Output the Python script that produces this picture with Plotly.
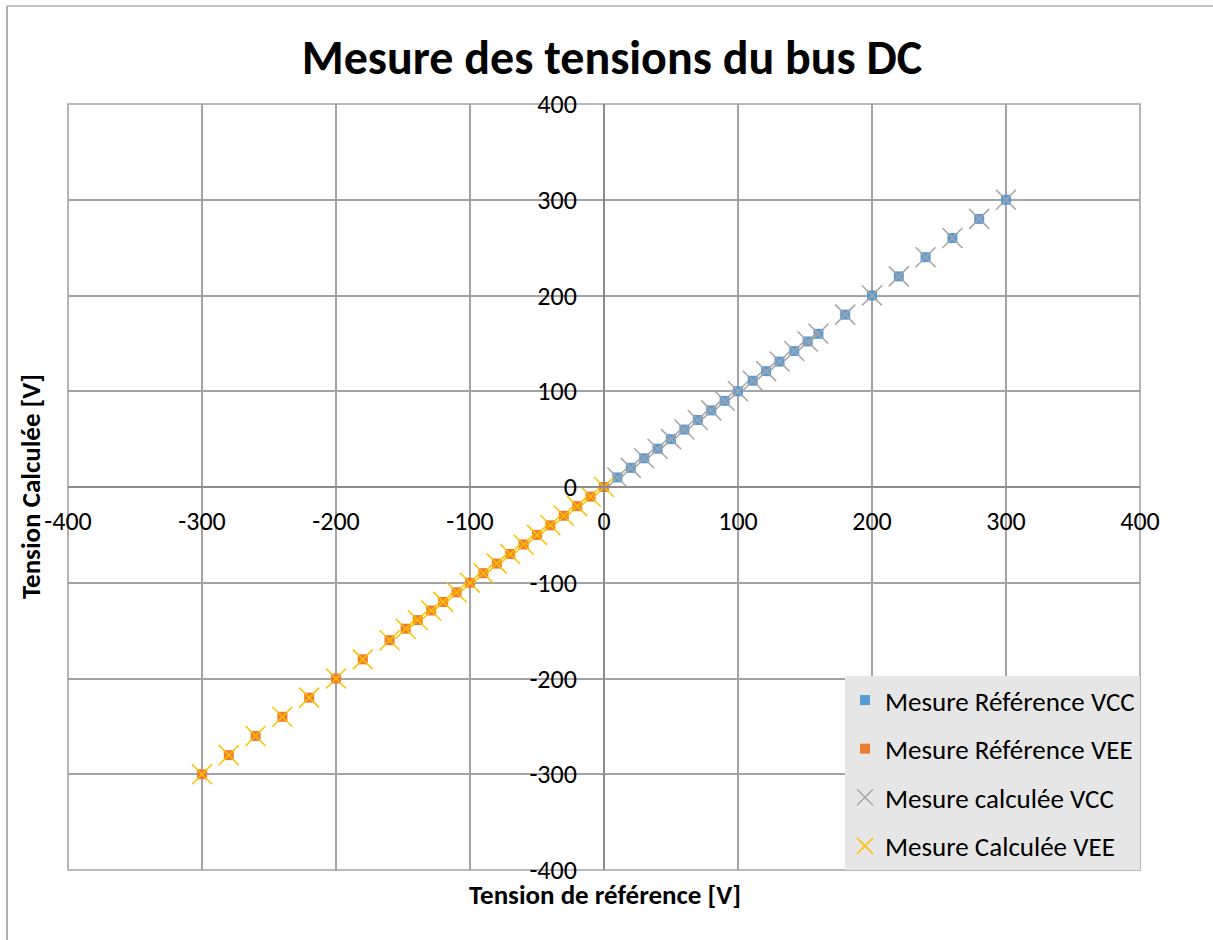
import plotly.graph_objects as go

# Reference and computed DC bus voltages [V]
ref_vcc = [10, 20, 30, 40, 50, 60, 70, 80, 90, 100, 111, 121, 131, 142, 152, 160,
           180, 200, 220, 240, 260, 280, 300]
calc_vcc = [10, 20, 30, 40, 50, 60, 70, 80, 90, 100, 111, 121, 131, 142, 152, 160,
            180, 200, 220, 240, 260, 280, 300]
ref_vee = [0, -10, -20, -30, -40, -50, -60, -70, -80, -90, -100, -110, -120, -129,
           -139, -148, -160, -180, -200, -220, -240, -260, -280, -300]
calc_vee = [0, -10, -20, -30, -40, -50, -60, -70, -80, -90, -100, -110, -120, -129,
            -139, -148, -160, -180, -200, -220, -240, -260, -280, -300]

tick_vals = [-400, -300, -200, -100, 0, 100, 200, 300, 400]
tick_text = [str(v) for v in tick_vals]

FONT = "Carlito, Lato, sans-serif"
GRID = "#A3A3A3"

fig = go.Figure()

fig.add_trace(go.Scatter(
    x=ref_vcc, y=ref_vcc, mode="markers", name="Mesure Référence VCC",
    legendgroup="a",
    marker=dict(symbol="square", size=10, color="#5B9BD5", line=dict(width=0)),
))
fig.add_trace(go.Scatter(
    x=ref_vee, y=ref_vee, mode="markers", name="Mesure Référence VEE",
    legendgroup="b",
    marker=dict(symbol="square", size=10, color="#ED7D31", line=dict(width=0)),
))
fig.add_trace(go.Scatter(
    x=ref_vcc, y=calc_vcc, mode="markers", name="Mesure calculée VCC",
    legendgroup="c",
    marker=dict(symbol="x-thin-open", size=20, color="#A5A5A5",
                line=dict(width=1.5, color="#A5A5A5")),
))
fig.add_trace(go.Scatter(
    x=ref_vee, y=calc_vee, mode="markers", name="Mesure Calculée VEE",
    legendgroup="d",
    marker=dict(symbol="x-thin-open", size=20, color="#FFC000",
                line=dict(width=1.5, color="#FFC000")),
))

axis_common = dict(
    range=[-400, 400], tickvals=tick_vals, ticktext=tick_text,
    showgrid=True, gridcolor=GRID, gridwidth=1.6,
    zeroline=False, showline=True, linecolor="#8C8C8C", linewidth=1.8,
    ticks="", tickfont=dict(family=FONT, size=26, color="#000000"),
    anchor="free", position=0.5, fixedrange=True,
)

fig.update_layout(
    width=1213, height=940,
    margin=dict(l=68, r=73, t=104, b=70),
    paper_bgcolor="white", plot_bgcolor="white",
    font=dict(family=FONT, color="#000000"),
    title=dict(text="<b>Mesure des tensions du bus DC</b>",
               font=dict(family=FONT, size=48, color="#000000"),
               x=0.5045, xanchor="center", xref="container",
               y=1 - 57 / 940, yanchor="middle", yref="container"),
    xaxis=dict(**axis_common, ticklabelstandoff=11),
    yaxis=dict(**axis_common, ticklabelstandoff=21),
    legend=dict(x=1, xanchor="right", y=0, yanchor="bottom",
                bgcolor="#E6E6E6", borderwidth=0,
                font=dict(family=FONT, size=27, color="#000000"),
                traceorder="grouped", tracegroupgap=10.5,
                itemsizing="trace"),
    showlegend=True,
)

# Plot-area frame
fig.add_shape(type="rect", xref="x domain", yref="y domain",
              x0=0, x1=1, y0=0, y1=1, line=dict(color=GRID, width=1.6),
              layer="below")

# Outer chart frame (left and top edges)
fig.add_shape(type="line", xref="paper", yref="paper",
              x0=(7 - 68) / 1072, x1=(7 - 68) / 1072,
              y0=(870 - 6) / 766, y1=(870 - 945) / 766,
              line=dict(color="#B0B0B0", width=2))
fig.add_shape(type="line", xref="paper", yref="paper",
              x0=(7 - 68) / 1072, x1=(1220 - 68) / 1072,
              y0=(870 - 6) / 766, y1=(870 - 6) / 766,
              line=dict(color="#B0B0B0", width=1.5))

# Axis titles
fig.add_annotation(text="<b>Tension de référence [V]</b>", xref="paper", yref="paper",
                   x=(605 - 68) / 1072, y=(870 - 894) / 766,
                   xanchor="center", yanchor="middle", showarrow=False,
                   font=dict(family=FONT, size=27, color="#000000"))
fig.add_annotation(text="<b>Tension Calculée [V]</b>", xref="paper", yref="paper",
                   x=(30 - 68) / 1072, y=(870 - 487) / 766, textangle=-90,
                   xanchor="center", yanchor="middle", showarrow=False,
                   font=dict(family=FONT, size=27, color="#000000"))

fig.write_html("out.html")
